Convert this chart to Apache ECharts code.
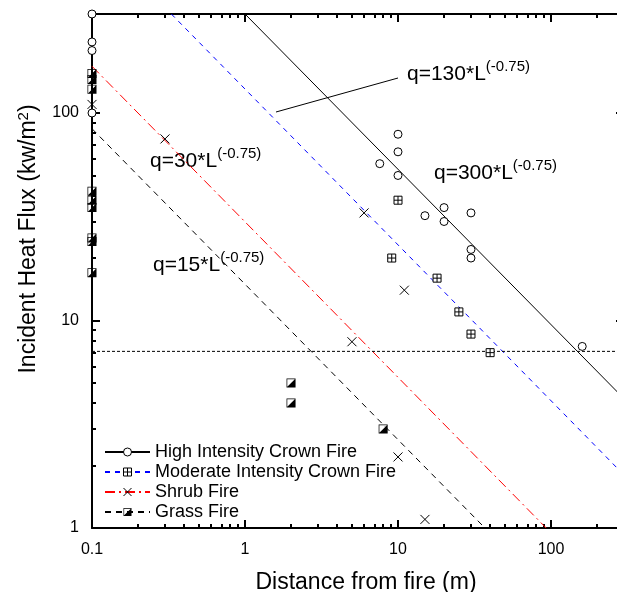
<!DOCTYPE html>
<html>
<head>
<meta charset="utf-8">
<script src="https://cdn.jsdelivr.net/npm/echarts@6/dist/echarts.min.js"></script>
<style>html,body{margin:0;padding:0;background:#fff}#c{width:617px;height:592px}</style>
</head>
<body>
<div id="c"></div>
<script>
// ---- data ----
const seriesNames = ['High Intensity Crown Fire', 'Moderate Intensity Crown Fire', 'Shrub Fire', 'Grass Fire'];
const highPoints = [[0.1,300],[0.1,220],[0.1,200],[0.1,100],[7.6,57],[10,79],[10,65],[10,50],[15,32],[20,35],[20,30],[30,33],[30,22],[30,20],[160,7.5]];
const moderatePoints = [[10,38],[9.1,20],[18,16],[25,11],[30,8.6],[40,7]];
const shrubPoints = [[0.1,110],[0.3,75],[6,33],[11,14],[5,7.9],[10,2.2],[15,1.1]];
const grassPoints = [[0.1,155],[0.1,145],[0.1,130],[0.1,42],[0.1,38],[0.1,35],[0.1,25],[0.1,24],[0.1,17],[2,5],[2,4],[8,3]];
// fitted lines q = C*L^(-0.75): endpoints
const highFit = [[1,300],[300,4.2]];
const moderateFit = [[0.33,300],[300,1.8]];
const shrubFit = [[0.1,168],[93,1]];
const grassFit = [[0.1,84],[37,1]];
const thresholdLine = [[0.1,7.1],[300,7.1]];
// axes
const xRange = [0.1, 300];
const yRange = [1, 300];
const xMajor = [0.1, 1, 10, 100];
const yMajor = [1, 10, 100];
const xMinor = [0.2,0.3,0.4,0.5,0.6,0.7,0.8,0.9,2,3,4,5,6,7,8,9,20,30,40,50,60,70,80,90,200];
const yMinor = [2,3,4,5,6,7,8,9,20,30,40,50,60,70,80,90,200];
const annotations = [
  {main: 'q=130*L', sup: '(-0.75)'},
  {main: 'q=300*L', sup: '(-0.75)'},
  {main: 'q=30*L', sup: '(-0.75)'},
  {main: 'q=15*L', sup: '(-0.75)'}
];

const FONT = "'Liberation Sans', Arial, sans-serif";
const chart = echarts.init(document.getElementById('c'), null, {renderer: 'canvas'});

const symCircle = 'circle';
const symPlusSquare = 'path://M0,0H10V10H0Z M5,0V10 M0,5H10';
const symCross = 'path://M0,0L10,10 M10,0L0,10';
const symHalf = 'path://M0,0H20V20H0Z M1.6,1.6V18.4H18.4V1.6Z M18.4,1.6L18.4,18.4L1.6,18.4Z';

function majorAxis(pos, isX, showLabel, name) {
  const rng = isX ? xRange : yRange;
  const major = isX ? xMajor : yMajor;
  const a = {
    type: 'log', logBase: 10, min: rng[0], max: rng[1], position: pos,
    axisLine: {show: true, lineStyle: {color: '#000', width: 2}},
    axisTick: {show: true, inside: true, length: 8, lineStyle: {color: '#000', width: 2}, customValues: major},
    axisLabel: {show: showLabel, customValues: major, formatter: v => String(v), fontSize: 16, color: '#000', fontFamily: FONT, margin: isX ? 14 : 13},
    splitLine: {show: false}, minorTick: {show: false}
  };
  if (name) Object.assign(a, name);
  return a;
}
function minorAxis(pos, isX) {
  const rng = isX ? xRange : yRange;
  return {
    type: 'log', logBase: 10, min: rng[0], max: rng[1], position: pos,
    axisLine: {show: false},
    axisTick: {show: true, inside: true, length: 4, lineStyle: {color: '#000', width: 2}, customValues: isX ? xMinor : yMinor},
    axisLabel: {show: false}, splitLine: {show: false}
  };
}

const seriesList = [];
const fits = [
  {name: seriesNames[0], data: highFit, color: '#000', type: 'solid', symbol: symCircle, fill: '#fff', bw: 1},
  {name: seriesNames[1], data: moderateFit, color: '#0000ff', type: [5,5], symbol: symPlusSquare, fill: '#fff', bw: 1},
  {name: seriesNames[2], data: shrubFit, color: '#ff0000', type: [10,4,2,4], symbol: symCross, fill: 'none', bw: 1},
  {name: seriesNames[3], data: grassFit, color: '#000', type: [6,5], symbol: symHalf, fill: '#000', bw: 0}
];
fits.forEach(f => seriesList.push({
  type: 'line', name: f.name, data: f.data, showSymbol: false, symbol: f.symbol, symbolSize: 8,
  itemStyle: {color: f.fill, borderColor: f.bw ? '#000' : 'none', borderWidth: f.bw},
  lineStyle: {color: f.color, width: 1, type: f.type}, z: 2, silent: true
}));
const pts = [
  {name: seriesNames[0], data: highPoints, symbol: symCircle, fill: '#fff', size: 8, bw: 1},
  {name: seriesNames[1], data: moderatePoints, symbol: symPlusSquare, fill: '#fff', size: 8, bw: 1},
  {name: seriesNames[2], data: shrubPoints, symbol: symCross, fill: 'none', size: 9, bw: 1},
  {name: seriesNames[3], data: grassPoints, symbol: symHalf, fill: '#000', size: 9, bw: 0}
];
pts.forEach(p => seriesList.push({
  type: 'scatter', name: p.name, data: p.data, symbol: p.symbol, symbolSize: p.size, clip: false,
  itemStyle: {color: p.fill, borderColor: p.bw ? '#000' : 'none', borderWidth: p.bw, opacity: 1}, z: 3, silent: true
}));
seriesList.push({
  type: 'line', name: 'threshold', data: thresholdLine, showSymbol: false, symbol: 'none',
  lineStyle: {color: '#000', width: 1, type: [3,2]}, z: 2, silent: true
});

const supRich = {
  m: {fontSize: 21, fontFamily: FONT, color: '#000', verticalAlign: 'bottom'},
  s: {fontSize: 15, fontFamily: FONT, color: '#000', verticalAlign: 'bottom', padding: [0,0,11,0]}
};
const annPos = [[407,59],[434,158],[150,146],[153,250]];
const graphics = annotations.map((a, i) => ({
  type: 'text', x: annPos[i][0], y: annPos[i][1], silent: true,
  style: {text: '{m|' + a.main + '}{s|' + a.sup + '}', rich: supRich, fill: '#000'}
}));
graphics.push({type: 'line', silent: true, shape: {x1: 276, y1: 112, x2: 398, y2: 78}, style: {stroke: '#000', lineWidth: 1}});

const legendData = seriesNames.map((n, i) => ({name: n, itemStyle: {borderWidth: pts[i].bw, borderColor: pts[i].bw ? '#000' : 'none'}}));

chart.setOption({
  animation: false,
  backgroundColor: '#fff',
  textStyle: {fontFamily: FONT},
  grid: {left: 92, top: 14, width: 532, height: 514, containLabel: false, outerBoundsMode: 'none'},
  legend: {
    data: legendData, orient: 'vertical', left: 99, top: 438, itemGap: 2,
    itemWidth: 45, itemHeight: 10, selectedMode: false,
    textStyle: {fontSize: 18, color: '#000', fontFamily: FONT}
  },
  xAxis: [
    majorAxis('bottom', true, true, {name: 'Distance from fire (m)', nameLocation: 'middle', nameGap: 43,
      nameTextStyle: {fontSize: 23, color: '#000', fontFamily: FONT, padding: [0,0,0,16]}}),
    majorAxis('top', true, false),
    minorAxis('bottom', true),
    minorAxis('top', true)
  ],
  yAxis: [
    majorAxis('left', false, true, {name: 'Incident Heat Flux (kw/m{sup|2})', nameLocation: 'middle', nameGap: 50, nameRotate: 90,
      nameTextStyle: {fontSize: 23, color: '#000', fontFamily: FONT, padding: [0,0,0,64],
        rich: {sup: {fontSize: 15, fontFamily: FONT, color: '#000', verticalAlign: 'bottom', padding: [0,0,11,0]}}}}),
    majorAxis('right', false, false),
    minorAxis('left', false),
    minorAxis('right', false)
  ],
  series: seriesList,
  graphic: graphics
});
</script>
</body>
</html>
